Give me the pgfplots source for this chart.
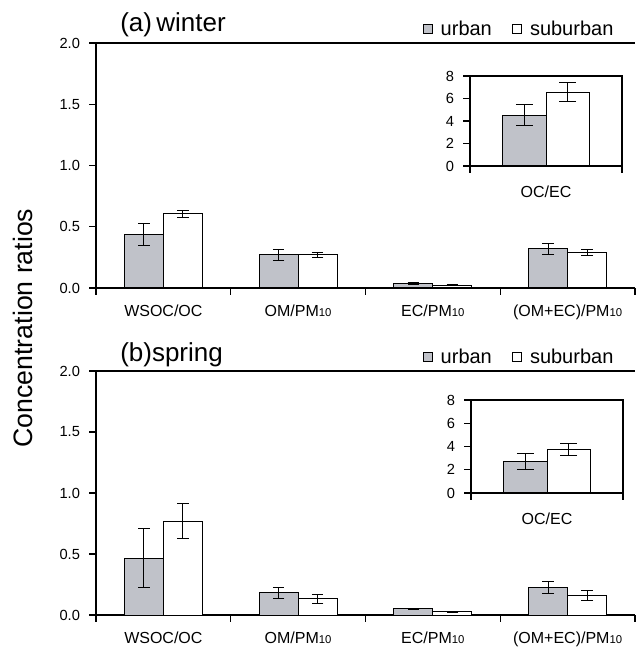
\documentclass[border=0pt]{standalone}
\usepackage{pgfplots}
\pgfplotsset{compat=1.18}
\usepackage{pgfplotstable}
\usepackage{fontspec}
\setmainfont{Liberation Sans}
\definecolor{ugray}{RGB}{192,194,201}

\pgfplotstableread{
x u ue s se
0 0.440 0.090 0.605 0.030
1 0.270 0.045 0.270 0.022
2 0.035 0.006 0.024 0.003
3 0.320 0.045 0.290 0.025
}\dataA
\pgfplotstableread{
x u ue s se
0 4.50 0.93 6.55 0.85
}\insetA
\pgfplotstableread{
x u ue s se
0 0.467 0.245 0.770 0.147
1 0.183 0.045 0.134 0.037
2 0.050 0.005 0.025 0.003
3 0.224 0.049 0.161 0.039
}\dataB
\pgfplotstableread{
x u ue s se
0 2.72 0.72 3.76 0.50
}\insetB

\newcommand{\sub}[1]{{\fontsize{8.5}{8.5}\selectfont #1}}

\pgfplotsset{
  common/.style={
    scale only axis,
    anchor=south west,
    ybar=0pt,
    tick align=outside,
    major tick length=5pt,
    every tick/.style={black, line width=0.8pt},
    axis line style={black, line width=0.9pt},
    /pgf/number format/assume math mode=true,
    ymin=0,
    tick label style={font=\fontsize{11}{13}\selectfont},
    yticklabel style={anchor=east, xshift=-3.5pt},
    error bars/error bar style={black, line width=0.75pt},
    error bars/error mark=|,
  },
  mainax/.style={
    common,
    width=404.25pt,
    bar width=29.25pt,
    xmin=-0.5, xmax=3.5,
    ymax=2,
    ytick={0,0.5,1,1.5,2},
    yticklabel={\pgfmathprintnumber[fixed,fixed zerofill,precision=1]{\tick}},
    axis x line*=bottom,
    axis y line*=left,
    xtick={-0.5,0.5,1.5,2.5,3.5},
    xticklabels={},
    extra x ticks={0,1,2,3},
    extra x tick labels={WSOC/OC, OM/PM\sub{10}, EC/PM\sub{10}, (OM+EC)/PM\sub{10}},
    extra x tick style={major tick length=0pt, tick label style={font=\fontsize{12}{14}\selectfont, anchor=base, yshift=-21.5pt}},
    error bars/error mark options={black, line width=0.75pt, mark size=4.4pt},
    legend style={draw=none, fill=none, legend columns=2,
      at={(axis description cs:1,1)}, anchor=east, xshift=-14pt, yshift=10.5pt,
      font=\fontsize{15}{15}\selectfont, inner sep=0pt,
      /tikz/every odd column/.append style={column sep=4pt},
      /tikz/every even column/.append style={column sep=13pt}},
    legend image code/.code={\draw[#1, draw=black, line width=0.6pt] (0pt,-3.5pt) rectangle (7pt,3.5pt);},
  },
  insetax/.style={
    common,
    width=114pt,
    bar width=32.5pt,
    xmin=-0.5, xmax=0.5,
    ymax=8,
    ytick={0,2,4,6,8},
    xtick pos=bottom, ytick pos=left,
    xtick={-0.5,0.5},
    xticklabels={},
    extra x ticks={0},
    extra x tick labels={OC/EC},
    extra x tick style={major tick length=0pt, tick label style={font=\fontsize{12}{14}\selectfont, anchor=base, yshift=-24pt}},
    error bars/error mark options={black, line width=0.75pt, mark size=6.3pt},
    axis background/.style={fill=white},
  },
  ubar/.style={fill=ugray, draw=black, line width=0.75pt},
  sbar/.style={fill=white, draw=black, line width=0.75pt},
}

\begin{document}
\begin{tikzpicture}
\useasboundingbox (0,0) rectangle (476.25pt,486pt);

% ---------- panel (a) ----------
\begin{axis}[mainax, at={(72pt,270pt)}, height=183.75pt]
\addplot[ubar, error bars/.cd, y dir=both, y explicit] table[x=x, y=u, y error=ue] {\dataA};
\addplot[sbar, error bars/.cd, y dir=both, y explicit] table[x=x, y=s, y error=se] {\dataA};
\legend{urban, suburban}
\draw[black, line width=0.9pt] (rel axis cs:0,1) -- (rel axis cs:1,1);
\end{axis}
\begin{axis}[insetax, at={(352.5pt,361.5pt)}, height=67.5pt]
\addplot[ubar, error bars/.cd, y dir=both, y explicit] table[x=x, y=u, y error=ue] {\insetA};
\addplot[sbar, error bars/.cd, y dir=both, y explicit] table[x=x, y=s, y error=se] {\insetA};
\end{axis}
\node[anchor=base west, font=\fontsize{19.5}{19.5}\selectfont, inner sep=0pt] at (90pt,462pt) {(a)\,winter};

% ---------- panel (b) ----------
\begin{axis}[mainax, at={(72pt,24.75pt)}, height=183pt]
\addplot[ubar, error bars/.cd, y dir=both, y explicit] table[x=x, y=u, y error=ue] {\dataB};
\addplot[sbar, error bars/.cd, y dir=both, y explicit] table[x=x, y=s, y error=se] {\dataB};
\legend{urban, suburban}
\draw[black, line width=0.9pt] (rel axis cs:0,1) -- (rel axis cs:1,1);
\end{axis}
\begin{axis}[insetax, at={(353.25pt,116.25pt)}, height=69.75pt]
\addplot[ubar, error bars/.cd, y dir=both, y explicit] table[x=x, y=u, y error=ue] {\insetB};
\addplot[sbar, error bars/.cd, y dir=both, y explicit] table[x=x, y=s, y error=se] {\insetB};
\end{axis}
\node[anchor=base west, font=\fontsize{19.5}{19.5}\selectfont, inner sep=0pt] at (90pt,214.5pt) {(b)spring};

\node[rotate=90, font=\fontsize{20}{20}\selectfont, inner sep=0pt] at (17pt,240pt) {Concentration ratios};
\end{tikzpicture}
\end{document}
